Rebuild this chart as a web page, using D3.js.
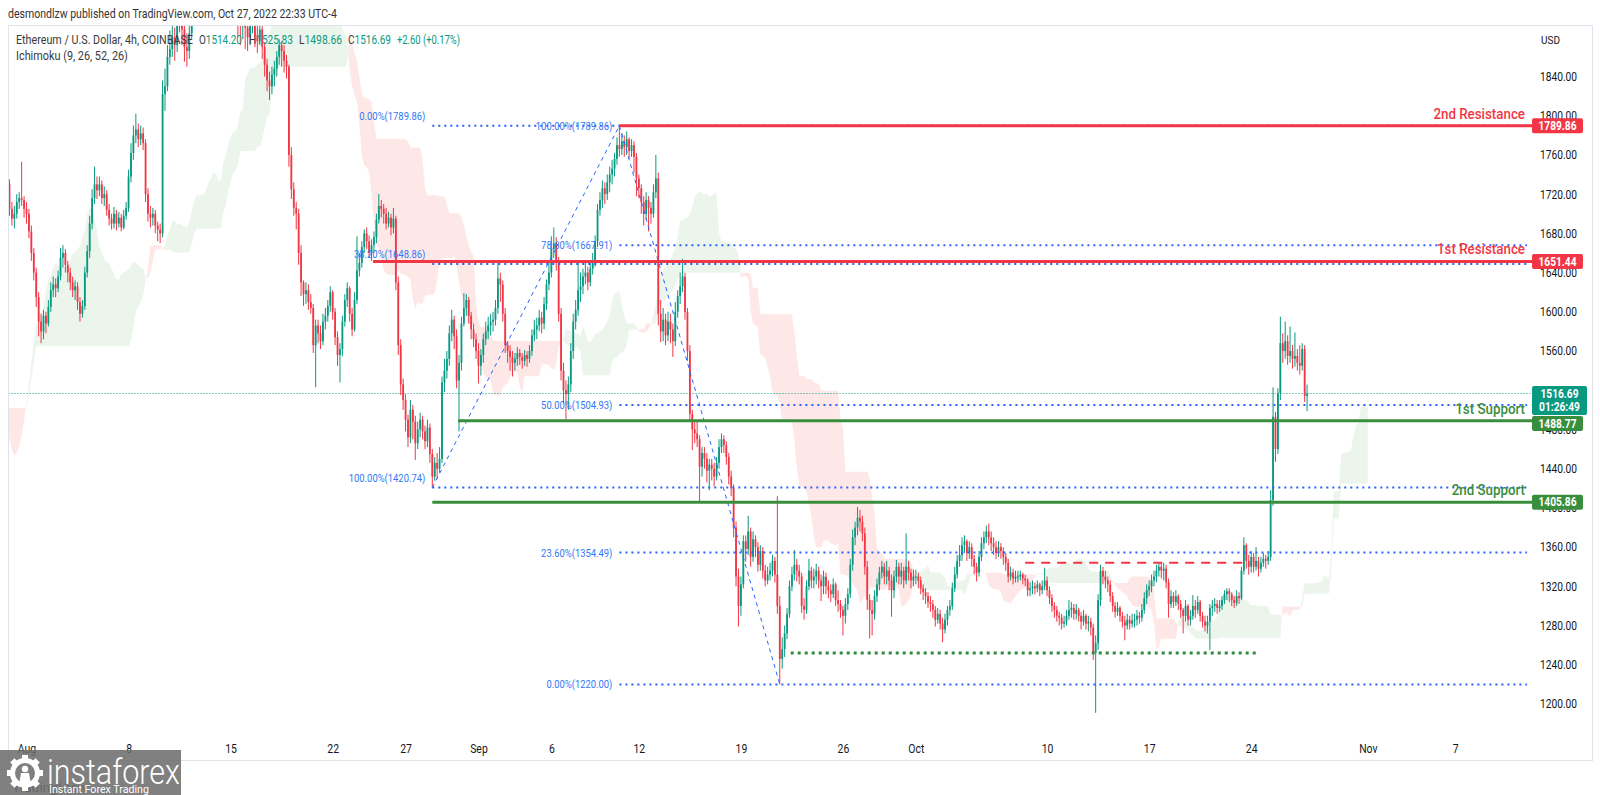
<!DOCTYPE html>
<html>
<head>
<meta charset="utf-8">
<script src="https://cdn.jsdelivr.net/npm/d3@7"></script>
<style>
  html, body { margin: 0; padding: 0; background: #fff; }
  svg { display: block; font-family: Roboto, "Noto Sans", sans-serif; }
</style>
</head>
<body>
<svg id="chart" width="1600" height="795"></svg>
<script>
// ETH/USD 4h candles, one row per day, six bars per row: [close, high, low]
// open of each bar = previous close
const firstOpen = 1345;

const julBars = [ // from Jul 18
  [[1370,1378,1340],[1400,1410,1365],[1460,1470,1395],[1520,1535,1455],[1560,1575,1512],[1545,1566,1535]],
  [[1530,1552,1515],[1510,1538,1498],[1540,1548,1505],[1560,1570,1532],[1590,1602,1555],[1550,1595,1542]],
  [[1580,1590,1545],[1610,1622,1575],[1560,1615,1552],[1530,1566,1522],[1520,1540,1505],[1525,1535,1510]],
  [[1490,1530,1482],[1510,1518,1476],[1540,1548,1502],[1570,1580,1532],[1590,1598,1562],[1575,1596,1568]],
  [[1600,1610,1570],[1630,1642,1595],[1590,1635,1582],[1560,1598,1552],[1545,1568,1535],[1540,1552,1530]],
  [[1560,1566,1532],[1575,1584,1552],[1550,1580,1542],[1530,1558,1522],[1555,1562,1525],[1550,1560,1540]],
  [[1580,1588,1545],[1600,1612,1575],[1610,1622,1595],[1595,1615,1588],[1600,1608,1590],[1590,1605,1582]],
  [[1570,1595,1562],[1530,1575,1522],[1480,1536,1472],[1460,1490,1450],[1450,1468,1438],[1440,1458,1430]],
  [[1420,1446,1410],[1400,1428,1385],[1380,1405,1362],[1410,1418,1372],[1440,1448,1402],[1450,1458,1432]],
  [[1460,1466,1442],[1470,1478,1452],[1500,1508,1465],[1530,1546,1495],[1600,1612,1522],[1635,1645,1592]],
  [[1660,1668,1628],[1690,1700,1652],[1720,1735,1682],[1750,1768,1712],[1740,1762,1730],[1725,1748,1715]],
  [[1735,1745,1718],[1750,1758,1728],[1710,1755,1702],[1720,1730,1700],[1740,1748,1712],[1730,1745,1722]],
  [[1720,1738,1712],[1700,1725,1692],[1715,1722,1695],[1740,1750,1710],[1730,1745,1722],[1705,1735,1698]],
  [[1695,1712,1688],[1700,1708,1685],[1712,1720,1695],[1716,1722,1705],[1714,1753,1708],[1705,1718,1696]]
];

const augBars = [
  [[1700,1712,1690],[1682,1705,1675],[1660,1688,1652],[1640,1665,1632],[1615,1645,1605],[1590,1620,1575]],
  [[1580,1598,1568],[1596,1602,1572],[1588,1600,1578],[1605,1612,1585],[1622,1630,1600],[1628,1636,1615]],
  [[1624,1634,1615],[1636,1642,1620],[1655,1665,1632],[1660,1668,1645],[1648,1664,1640],[1640,1652,1630]],
  [[1630,1645,1622],[1622,1636,1615],[1626,1632,1612],[1610,1630,1602],[1598,1615,1590],[1606,1612,1594]],
  [[1640,1646,1602],[1662,1668,1635],[1690,1698,1655],[1716,1725,1684],[1730,1748,1710],[1724,1738,1715]],
  [[1730,1738,1718],[1716,1734,1710],[1720,1728,1708],[1704,1724,1698],[1695,1710,1688],[1690,1700,1684]],
  [[1700,1707,1685],[1690,1704,1683],[1696,1702,1686],[1686,1700,1682],[1698,1704,1684],[1706,1712,1694]],
  [[1738,1745,1702],[1762,1772,1732],[1780,1790,1755],[1786,1802,1772],[1776,1792,1768],[1782,1790,1770]],
  [[1772,1788,1765],[1720,1776,1712],[1700,1726,1692],[1696,1708,1686],[1700,1706,1688],[1688,1704,1680]],
  [[1684,1692,1672],[1680,1690,1670],[1822,1836,1676],[1830,1848,1805],[1860,1872,1825],[1868,1887,1852]],
  [[1880,1898,1860],[1872,1890,1856],[1892,1910,1865],[1905,1938,1885],[1888,1912,1872],[1870,1895,1855]],
  [[1866,1884,1850],[1884,1892,1858],[1905,1912,1878],[1920,1930,1898],[1935,1946,1910],[1930,1942,1915]],
  [[1950,1962,1922],[1975,1985,1942],[1992,2002,1965],[1984,2000,1970],[1996,2010,1975],[1985,2002,1972]],
  [[1998,2008,1975],[2012,2030,1990],[2020,2028,1998],[1990,2025,1980],[1960,1998,1950],[1935,1968,1925]],
  [[1922,1945,1905],[1948,1960,1915],[1985,2012,1940],[1920,1990,1880],[1895,1928,1872],[1900,1910,1878]],
  [[1890,1912,1868],[1880,1898,1866],[1895,1905,1872],[1906,1915,1884],[1882,1910,1870],[1876,1892,1864]],
  [[1888,1912,1872],[1870,1895,1858],[1852,1875,1840],[1836,1858,1825],[1830,1845,1816],[1842,1850,1822]],
  [[1848,1856,1830],[1860,1866,1840],[1872,1878,1852],[1866,1876,1850],[1856,1872,1844],[1850,1862,1838]],
  [[1760,1852,1748],[1725,1768,1715],[1706,1732,1698],[1700,1712,1684],[1660,1705,1648],[1630,1668,1616]],
  [[1618,1632,1606],[1622,1630,1608],[1610,1628,1602],[1604,1618,1598],[1566,1608,1558],[1586,1592,1523]],
  [[1578,1592,1568],[1570,1586,1562],[1590,1598,1566],[1596,1604,1582],[1606,1612,1590],[1620,1626,1600]],
  [[1600,1622,1592],[1574,1604,1566],[1556,1580,1545],[1562,1568,1528],[1590,1596,1555],[1612,1618,1585]],
  [[1624,1630,1605],[1598,1626,1590],[1582,1604,1575],[1612,1620,1580],[1642,1677,1608],[1650,1660,1636]],
  [[1666,1672,1645],[1680,1684,1660],[1672,1686,1664],[1660,1678,1655],[1668,1674,1652],[1676,1682,1660]],
  [[1694,1700,1670],[1708,1720,1690],[1705,1714,1696],[1700,1710,1690],[1690,1706,1684],[1696,1702,1686]],
  [[1686,1700,1678],[1695,1706,1680],[1630,1698,1622],[1566,1636,1556],[1526,1572,1515],[1510,1532,1500]],
  [[1490,1516,1478],[1472,1495,1462],[1500,1510,1466],[1488,1505,1470],[1466,1494,1449],[1480,1488,1460]],
  [[1490,1497,1472],[1478,1494,1470],[1468,1484,1460],[1482,1490,1462],[1455,1486,1446],[1432,1460,1420.74]],
  [[1446,1452,1428],[1440,1456,1430],[1450,1462,1436],[1528,1534,1446],[1540,1552,1518],[1552,1560,1532]],
  [[1578,1586,1545],[1592,1602,1570],[1575,1596,1562],[1530,1582,1522],[1548,1556,1478],[1588,1595,1540]],
  [[1604,1619,1585],[1612,1618,1596],[1596,1615,1588],[1582,1600,1572],[1572,1588,1564],[1560,1578,1552]]
];

const sepBars = [
  [[1545,1568,1527],[1556,1562,1535],[1572,1578,1548],[1580,1590,1566],[1586,1595,1572],[1590,1598,1576]],
  [[1592,1600,1580],[1604,1612,1586],[1634,1650,1598],[1628,1640,1610],[1598,1632,1590],[1566,1604,1558]],
  [[1560,1570,1548],[1554,1566,1540],[1548,1560,1534],[1552,1558,1540],[1558,1564,1545],[1554,1562,1546]],
  [[1550,1558,1542],[1556,1561,1545],[1552,1560,1544],[1560,1566,1548],[1576,1582,1555],[1582,1592,1570]],
  [[1586,1594,1572],[1594,1602,1580],[1588,1600,1578],[1608,1615,1582],[1628,1633,1602],[1640,1652,1622]],
  [[1664,1677,1635],[1670,1686,1655],[1650,1676,1642],[1598,1656,1590],[1540,1604,1530],[1520,1548,1506]],
  [[1516,1530,1490],[1526,1534,1500],[1560,1568,1518],[1590,1598,1552],[1602,1612,1582],[1622,1650,1596]],
  [[1626,1640,1610],[1636,1644,1618],[1640,1653,1628],[1630,1646,1622],[1644,1650,1626],[1652,1660,1638]],
  [[1672,1678,1646],[1704,1710,1666],[1714,1722,1698],[1726,1734,1706],[1720,1732,1710],[1732,1740,1714]],
  [[1740,1748,1722],[1746,1755,1730],[1756,1762,1738],[1770,1778,1750],[1766,1789.86,1758],[1774,1782,1760]],
  [[1768,1780,1758],[1776,1784,1760],[1764,1778,1756],[1770,1776,1758],[1758,1774,1742],[1736,1762,1718]],
  [[1726,1740,1716],[1712,1730,1700],[1700,1718,1688],[1714,1722,1694],[1706,1718,1682],[1700,1712,1690]],
  [[1722,1730,1696],[1736,1760,1716],[1598,1742,1586],[1580,1612,1569],[1592,1604,1570],[1576,1598,1566]],
  [[1590,1600,1570],[1582,1598,1568],[1570,1588,1554],[1600,1610,1565],[1616,1622,1594],[1626,1640,1608]],
  [[1636,1654,1620],[1600,1640,1592],[1560,1604,1550],[1496,1566,1488],[1480,1500,1459],[1476,1490,1466]],
  [[1470,1488,1462],[1442,1474,1405],[1456,1462,1432],[1450,1462,1440],[1438,1456,1426],[1444,1450,1418]],
  [[1440,1450,1428],[1432,1446,1422],[1446,1452,1428],[1462,1470,1440],[1470,1476,1456],[1464,1474,1456]],
  [[1452,1468,1444],[1432,1456,1424],[1420,1438,1412],[1380,1424,1370],[1330,1386,1320],[1300,1338,1279]],
  [[1322,1330,1290],[1366,1372,1318],[1358,1372,1345],[1376,1392,1352],[1350,1380,1340],[1368,1376,1345]],
  [[1360,1372,1350],[1342,1365,1335],[1356,1362,1336],[1336,1360,1328],[1326,1342,1320],[1332,1340,1322]],
  [[1336,1344,1326],[1346,1352,1330],[1332,1350,1324],[1300,1412,1292],[1246,1310,1220],[1256,1268,1236]],
  [[1272,1280,1248],[1292,1298,1266],[1320,1326,1288],[1332,1340,1315],[1342,1357,1326],[1336,1348,1325]],
  [[1330,1342,1322],[1300,1334,1293],[1296,1308,1286],[1320,1326,1292],[1336,1348,1316],[1326,1340,1318]],
  [[1330,1338,1318],[1336,1343,1322],[1326,1340,1318],[1320,1332,1305],[1330,1336,1312],[1320,1334,1312]],
  [[1316,1326,1308],[1312,1322,1304],[1322,1328,1308],[1306,1324,1300],[1302,1316,1294],[1296,1306,1288]],
  [[1290,1300,1270],[1302,1308,1282],[1312,1318,1296],[1342,1348,1308],[1370,1378,1336],[1380,1386,1362]],
  [[1390,1401,1372],[1386,1398,1376],[1374,1392,1366],[1340,1380,1332],[1306,1346,1296],[1296,1312,1267]],
  [[1292,1306,1270],[1310,1316,1286],[1322,1328,1304],[1334,1340,1316],[1340,1346,1328],[1330,1344,1322]],
  [[1336,1346,1322],[1326,1340,1316],[1316,1332,1289],[1330,1336,1308],[1340,1347,1324],[1330,1344,1322]],
  [[1336,1344,1322],[1326,1340,1318],[1340,1374,1322],[1334,1346,1326],[1326,1338,1318],[1330,1337,1320]]
];

const octBars = [
  [[1330,1337,1322],[1326,1334,1318],[1318,1330,1312],[1314,1322,1306],[1310,1318,1302],[1304,1314,1298]],
  [[1302,1310,1294],[1296,1306,1288],[1286,1300,1279],[1292,1298,1282],[1282,1296,1276],[1276,1288,1263]],
  [[1286,1292,1272],[1296,1300,1280],[1300,1306,1290],[1318,1324,1296],[1332,1340,1314],[1346,1352,1328]],
  [[1352,1362,1340],[1362,1370,1346],[1366,1372,1354],[1354,1368,1346],[1360,1366,1348],[1348,1364,1340]],
  [[1340,1352,1332],[1334,1344,1325],[1350,1356,1330],[1364,1370,1346],[1370,1376,1358],[1376,1382,1364]],
  [[1370,1384,1362],[1364,1376,1356],[1360,1370,1352],[1354,1366,1348],[1360,1366,1350],[1356,1364,1348]],
  [[1350,1360,1342],[1344,1354,1336],[1330,1348,1324],[1334,1340,1326],[1328,1338,1322],[1330,1336,1324]],
  [[1330,1336,1324],[1332,1336,1326],[1328,1334,1322],[1326,1332,1320],[1316,1328,1310],[1318,1324,1310]],
  [[1320,1326,1312],[1318,1324,1312],[1322,1326,1314],[1316,1324,1310],[1320,1326,1312],[1326,1339,1316]],
  [[1316,1330,1310],[1308,1320,1302],[1300,1312,1294],[1296,1304,1288],[1290,1300,1284],[1288,1294,1280]],
  [[1282,1292,1276],[1284,1290,1278],[1290,1296,1280],[1296,1306,1286],[1298,1304,1288],[1292,1302,1286]],
  [[1296,1302,1286],[1290,1298,1284],[1284,1294,1276],[1290,1296,1280],[1282,1292,1276],[1284,1290,1274]],
  [[1278,1288,1270],[1252,1282,1245],[1262,1270,1191],[1306,1312,1255],[1336,1342,1300],[1330,1340,1322]],
  [[1326,1336,1318],[1322,1330,1314],[1310,1326,1304],[1300,1314,1294],[1294,1304,1288],[1298,1304,1290]],
  [[1290,1300,1284],[1284,1294,1278],[1280,1290,1265],[1286,1292,1276],[1282,1290,1276],[1285,1292,1278]],
  [[1286,1292,1278],[1290,1296,1280],[1288,1294,1282],[1296,1302,1284],[1308,1314,1292],[1316,1322,1302]],
  [[1320,1326,1310],[1326,1332,1314],[1330,1336,1320],[1336,1342,1324],[1340,1344,1330],[1336,1344,1328]],
  [[1338,1344,1326],[1324,1342,1318],[1302,1328,1288],[1310,1316,1298],[1304,1314,1298],[1310,1316,1300]],
  [[1302,1312,1296],[1296,1306,1288],[1290,1298,1272],[1300,1306,1284],[1286,1302,1280],[1290,1296,1280]],
  [[1300,1311,1286],[1296,1306,1288],[1304,1310,1292],[1290,1306,1284],[1284,1294,1278],[1280,1290,1274]],
  [[1284,1290,1272],[1298,1302,1255],[1300,1306,1290],[1302,1308,1294],[1298,1306,1292],[1300,1306,1294]],
  [[1306,1310,1296],[1312,1316,1302],[1315,1318,1306],[1312,1318,1304],[1306,1314,1300],[1303,1310,1298]],
  [[1310,1316,1300],[1308,1314,1302],[1336,1340,1306],[1362,1370,1332],[1346,1364,1338],[1340,1352,1332]],
  [[1350,1356,1334],[1340,1354,1334],[1346,1360,1336],[1338,1350,1330],[1344,1350,1334],[1348,1354,1340]],
  [[1346,1352,1338],[1350,1356,1342],[1408,1418,1346],[1493,1523,1402],[1460,1498,1447],[1517,1522,1455]],
  [[1568,1595,1510],[1560,1578,1548],[1570,1590,1552],[1555,1576,1546],[1560,1585,1548],[1552,1566,1542]],
  [[1555,1579,1544],[1548,1562,1540],[1545,1566,1536],[1562,1568,1540],[1514.2,1566,1508],[1516.69,1525.83,1498.66]]
];

const monthStarts = ['2022-07-18', '2022-08-01', '2022-09-01', '2022-10-01'];

// axis ticks
const tickDates = ['2022-08-01','2022-08-08','2022-08-15','2022-08-22','2022-08-27','2022-09-01','2022-09-06',
  '2022-09-12','2022-09-19','2022-09-26','2022-10-01','2022-10-10','2022-10-17','2022-10-24','2022-11-01','2022-11-07'];
const tickLabels = ['Aug','8','15','22','27','Sep','6','12','19','26','Oct','10','17','24','Nov','7'];
const priceTicks = [1200,1240,1280,1320,1360,1400,1440,1480,1520,1560,1600,1640,1680,1720,1760,1800,1840];

// fibonacci retracements: anchor dates / prices and levels
const fib1Dates = ['2022-08-28T20:00', '2022-09-10T16:00'];
const fib1Prices = [1420.74, 1789.86];
const fib1Levels = [0, 0.382, 1];
const fib2Dates = ['2022-09-10T16:00', '2022-09-21T16:00'];
const fib2Prices = [1789.86, 1220.00];
const fib2Levels = [0, 0.236, 0.5, 0.786, 1];
const fibEnd = '2022-11-11T22:00';

// horizontal support / resistance
const levelNames = ['2nd Resistance', '1st Resistance', '1st Support', '2nd Support'];
const levelPrices = [1789.86, 1651.44, 1488.77, 1405.86];
const levelStarts = ['2022-09-10T16:00', '2022-08-24T18:30', '2022-08-30T14:30', '2022-08-28T20:00'];
const levelKinds = ['res', 'res', 'sup', 'sup'];

const baseLine = { price: 1252, from: '2022-09-22T10:00', to: '2022-10-24T14:00' };
const rangeTop = { price: 1344, from: '2022-10-08T12:00', to: '2022-10-23T14:00' };

const lastPrice = 1516.69;
const countdown = '01:26:49';

// ---------------------------------------------------------------
const GREEN = '#089981', RED = '#f23645', SUP = '#388e3c', FIB = '#2962ff';
const PLOT_L = 8.5, PLOT_R = 1532, PLOT_T = 26, PLOT_B = 737;

const parseT = d3.utcParse('%Y-%m-%dT%H:%M');
const parseD = d3.utcParse('%Y-%m-%d');
const H4 = 4 * 3600e3;

const bars = [];
let prev = firstOpen;
[julBars, augBars, sepBars, octBars].forEach((days, m) => {
  const start = parseD(monthStarts[m]).getTime();
  days.forEach((day, di) => day.forEach(([c, h, l], bi) => {
    bars.push({ t: new Date(start + (di * 6 + bi) * H4), o: prev, c, h: Math.max(h, prev, c), l: Math.min(l, prev, c) });
    prev = c;
  }));
});

const x = d3.scaleUtc().domain([parseD('2022-08-01'), parseD('2022-11-07')]).range([26.5, 1455.3]);
const y = d3.scaleLinear().domain([1200, 1840]).range([704, 76.5]);

const svg = d3.select('#chart');
svg.append('rect').attr('width', 1600).attr('height', 795).attr('fill', '#fff');

svg.append('clipPath').attr('id', 'plot').append('rect')
  .attr('x', PLOT_L).attr('y', PLOT_T).attr('width', PLOT_R - PLOT_L).attr('height', PLOT_B - PLOT_T);
const plot = svg.append('g').attr('clip-path', 'url(#plot)');

// text helper: horizontally condensed like the screenshot
function put(g, px, py, str, o = {}) {
  const t = g.append('text')
    .attr('font-size', o.size || 12).attr('fill', o.fill || '#131722')
    .attr('font-weight', o.weight || 400)
    .attr('text-anchor', o.anchor || 'start').attr('dy', '0.35em');
  if (Array.isArray(str)) str.forEach(([s, c]) => t.append('tspan').attr('fill', c).text(s));
  else t.text(str);
  const w = t.node().getComputedTextLength();
  const k = o.width ? o.width / w : (o.k || 0.87);
  t.attr('transform', `translate(${px},${py}) scale(${k},1)`);
  return t;
}

// ---- Ichimoku cloud (9, 26, 52, 26) ----
const mid = (i, n) => {
  const s = bars.slice(Math.max(0, i - n + 1), i + 1);
  return (d3.max(s, b => b.h) + d3.min(s, b => b.l)) / 2;
};
const cloud = [];
bars.forEach((b, i) => {
  if (i < 51) return;
  cloud.push({ x: x(new Date(b.t.getTime() + 25 * H4)), a: (mid(i, 9) + mid(i, 26)) / 2, b: mid(i, 52) });
});
const runs = [];
let cur = null;
cloud.forEach((p, k) => {
  const up = p.a >= p.b;
  if (!cur || cur.up !== up) {
    if (cur) {
      const q = cloud[k - 1], d1 = q.a - q.b, d2 = p.a - p.b, f = d1 / (d1 - d2);
      const cx = q.x + f * (p.x - q.x), cv = q.a + f * (p.a - q.a);
      cur.pts.push({ x: cx, a: cv, b: cv });
      cur = { up, pts: [{ x: cx, a: cv, b: cv }] };
    } else cur = { up, pts: [] };
    runs.push(cur);
  }
  cur.pts.push(p);
});
const area = d3.area().x(d => d.x).y0(d => y(d.b)).y1(d => y(d.a));
plot.append('g').selectAll('path').data(runs).join('path')
  .attr('d', r => area(r.pts))
  .attr('fill', r => r.up ? 'rgba(67,160,71,0.10)' : 'rgba(244,67,54,0.12)');

// ---- last price line ----
plot.append('line').attr('x1', PLOT_L).attr('x2', PLOT_R).attr('y1', y(lastPrice)).attr('y2', y(lastPrice))
  .attr('stroke', GREEN).attr('stroke-width', 1).attr('stroke-dasharray', '1,2');

// ---- candles ----
const cg = plot.append('g');
cg.selectAll('line').data(bars).join('line')
  .attr('x1', d => x(d.t)).attr('x2', d => x(d.t))
  .attr('y1', d => y(d.h)).attr('y2', d => y(d.l))
  .attr('stroke', d => d.c >= d.o ? GREEN : RED).attr('stroke-width', 1);
cg.selectAll('rect').data(bars).join('rect')
  .attr('x', d => x(d.t) - 0.9).attr('width', 1.8)
  .attr('y', d => y(Math.max(d.o, d.c)))
  .attr('height', d => Math.max(1, Math.abs(y(d.o) - y(d.c))))
  .attr('fill', d => d.c >= d.o ? GREEN : RED);

// ---- fibonacci ----
const draw = svg.append('g');
const fx1 = fib1Dates.map(s => x(parseT(s)));
const fx2 = fib2Dates.map(s => x(parseT(s)));
const fxEnd = x(parseT(fibEnd));
const fibRange1 = fib1Prices[1] - fib1Prices[0];
fib1Levels.forEach(lv => {
  const p = fib1Prices[1] - lv * fibRange1;
  draw.append('line').attr('x1', fx1[0]).attr('x2', fxEnd).attr('y1', y(p)).attr('y2', y(p))
    .attr('stroke', FIB).attr('stroke-width', 2).attr('stroke-dasharray', '2,4');
  put(draw, fx1[0] - 7, y(p) - 10, `${(lv * 100).toFixed(2)}%(${p.toFixed(2)})`, { size: 11.5, fill: '#3179f5', anchor: 'end', k: 0.82 });
});
draw.append('line').attr('x1', fx1[0]).attr('y1', y(fib1Prices[0])).attr('x2', fx1[1]).attr('y2', y(fib1Prices[1]))
  .attr('stroke', FIB).attr('stroke-width', 1).attr('stroke-dasharray', '4,4');
const fibRange2 = fib2Prices[0] - fib2Prices[1];
fib2Levels.forEach(lv => {
  const p = fib2Prices[1] + lv * fibRange2;
  draw.append('line').attr('x1', fx2[0]).attr('x2', fxEnd).attr('y1', y(p)).attr('y2', y(p))
    .attr('stroke', FIB).attr('stroke-width', 2).attr('stroke-dasharray', '2,4');
  put(draw, fx2[0] - 7, y(p), `${(lv * 100).toFixed(2)}%(${p.toFixed(2)})`, { size: 11.5, fill: '#3179f5', anchor: 'end', k: 0.82 });
});
draw.append('line').attr('x1', fx2[0]).attr('y1', y(fib2Prices[0])).attr('x2', fx2[1]).attr('y2', y(fib2Prices[1]))
  .attr('stroke', FIB).attr('stroke-width', 1).attr('stroke-dasharray', '4,4');

// ---- support line dotted / range top dashed ----
draw.append('line').attr('x1', x(parseT(baseLine.from))).attr('x2', x(parseT(baseLine.to)))
  .attr('y1', y(baseLine.price)).attr('y2', y(baseLine.price))
  .attr('stroke', '#2e8b3a').attr('stroke-width', 3).attr('stroke-dasharray', '3,4');
draw.append('line').attr('x1', x(parseT(rangeTop.from))).attr('x2', x(parseT(rangeTop.to)))
  .attr('y1', y(rangeTop.price)).attr('y2', y(rangeTop.price))
  .attr('stroke', RED).attr('stroke-width', 2).attr('stroke-dasharray', '9,7');

// ---- support / resistance levels ----
levelPrices.forEach((p, i) => {
  const col = levelKinds[i] === 'res' ? RED : SUP;
  draw.append('line').attr('x1', x(parseT(levelStarts[i]))).attr('x2', PLOT_R).attr('y1', y(p)).attr('y2', y(p))
    .attr('stroke', col).attr('stroke-width', 3);
  put(draw, 1525, y(p) - 12, levelNames[i], { size: 14.5, weight: 500, fill: col, anchor: 'end', k: 0.92 });
});

// ---- price axis ----
const yAxis = d3.axisRight(y).tickValues(priceTicks).tickFormat(d3.format('.2f')).tickSize(0).tickPadding(0);
const gy = svg.append('g').attr('transform', 'translate(1540,0)').call(yAxis);
gy.select('.domain').remove();
gy.selectAll('text').attr('font-size', 12).attr('fill', '#131722')
  .attr('font-family', 'Roboto, sans-serif').attr('transform', 'scale(0.85,1)');
put(svg, 1541, 40, 'USD', { size: 11.5 });

// tags
const tagG = svg.append('g');
function tag(p, top, h, color, lines, w) {
  tagG.append('rect').attr('x', PLOT_R).attr('y', top).attr('width', w).attr('height', h).attr('rx', 2).attr('fill', color);
  lines.forEach((s, i) => put(tagG, PLOT_R + w / 2, top + 7.5 + i * 13.5, s, { size: 12, weight: 700, fill: '#fff', anchor: 'middle', k: 0.85 }));
}
const curTop = y(lastPrice) - 7.5;
tag(lastPrice, curTop, 29, GREEN, [lastPrice.toFixed(2), countdown], 55);
levelPrices.forEach((p, i) => {
  let top = y(p) - 7.5;
  if (top < curTop + 29 && top + 15 > curTop) top = curTop + 30;
  tag(p, top, 15, levelKinds[i] === 'res' ? RED : SUP, [p.toFixed(2)], 51);
});

// ---- time axis ----
const xAxis = d3.axisBottom(x).tickValues(tickDates.map(parseD)).tickFormat((d, i) => tickLabels[i]).tickSize(0).tickPadding(0);
const gx = svg.append('g').attr('transform', 'translate(0,744)').call(xAxis);
gx.select('.domain').remove();
gx.selectAll('text').attr('font-size', 12).attr('fill', '#131722')
  .attr('font-family', 'Roboto, sans-serif').attr('transform', 'scale(0.87,1)');

// ---- frame ----
const frame = svg.append('g').attr('stroke', '#e0e3eb').attr('stroke-width', 1);
frame.append('line').attr('x1', 8).attr('x2', 1592).attr('y1', 25.5).attr('y2', 25.5);
frame.append('line').attr('x1', 8.5).attr('x2', 8.5).attr('y1', 25).attr('y2', 761);
frame.append('line').attr('x1', 1592.5).attr('x2', 1592.5).attr('y1', 25).attr('y2', 761);
frame.append('line').attr('x1', 8).attr('x2', 1592).attr('y1', 760.5).attr('y2', 760.5);

// ---- header / legend ----
put(svg, 8, 14, 'desmondlzw published on TradingView.com, Oct 27, 2022 22:33 UTC-4', { size: 12.5, fill: '#333', width: 329 });
put(svg, 16, 40, 'Ethereum / U.S. Dollar, 4h, COINBASE', { size: 12.5, fill: '#3a3a3a', width: 177 });
put(svg, 199, 40, [['O', '#3a3a3a'], ['1514.20', GREEN]], { size: 12.5, width: 43 });
put(svg, 249, 40, [['H', '#3a3a3a'], ['1525.83', GREEN]], { size: 12.5, width: 44 });
put(svg, 299, 40, [['L', '#3a3a3a'], ['1498.66', GREEN]], { size: 12.5, width: 43 });
put(svg, 348, 40, [['C', '#3a3a3a'], ['1516.69', GREEN]], { size: 12.5, width: 43 });
put(svg, 397, 40, '+2.60 (+0.17%)', { size: 12.5, fill: GREEN, width: 63 });
put(svg, 16, 56, 'Ichimoku (9, 26, 52, 26)', { size: 12.5, fill: '#3a3a3a', width: 112 });

// ---- watermark + logo ----
put(svg, 12, 787, 'TradingView', { size: 13, fill: '#444', width: 76 });
const logo = svg.append('g');
logo.append('rect').attr('x', 0).attr('y', 750).attr('width', 181).attr('height', 45).attr('fill', '#6e6e6e').attr('opacity', 0.88);
const gear = logo.append('g').attr('transform', 'translate(25,773)').attr('fill', '#fff');
d3.range(8).forEach(k => gear.append('rect').attr('x', -3).attr('y', -18).attr('width', 6).attr('height', 7)
  .attr('transform', `rotate(${k * 45})`));
gear.append('circle').attr('r', 12.5).attr('fill', 'none').attr('stroke', '#fff').attr('stroke-width', 5);
gear.append('circle').attr('cy', -4).attr('r', 3.2);
gear.append('path').attr('d', 'M-6,12 L-4,0 L4,0 L6,12 Z');
put(logo, 47, 771, 'instaforex', { size: 36, weight: 300, fill: '#fff', width: 133 });
put(logo, 49, 789, 'Instant Forex Trading', { size: 11.5, fill: '#fff', width: 100 });
</script>
</body>
</html>
